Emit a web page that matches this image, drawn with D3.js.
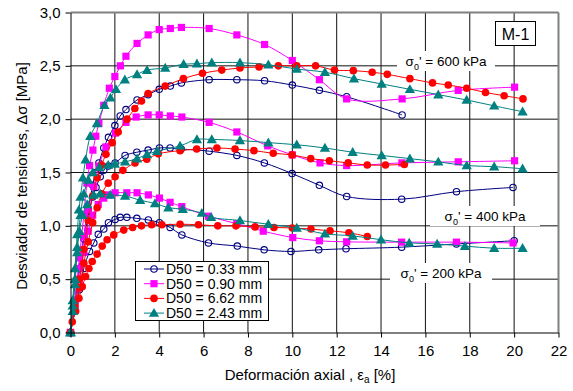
<!DOCTYPE html>
<html>
<head>
<meta charset="utf-8">
<script src="https://cdn.jsdelivr.net/npm/d3@7"></script>
<style>
  body { margin: 0; background: #fff; }
  text { font-family: "Liberation Sans", Arial, sans-serif; }
  .tick text { font-size: 15px; fill: #000; }
  .tick line, .domain { stroke: #000; }
</style>
</head>
<body>
<div id="chart"></div>
<script>

// data: [deformacion axial %, desviador MPa]
var navy200 = [[0,0],[0.2,0.2],[0.4,0.4],[0.6,0.6],[0.86,0.76],[1.05,0.84],[1.25,0.92],[1.5,0.97],[1.71,1.03],[2.01,1.06],[2.24,1.08],[2.54,1.08],[2.99,1.07],[3.51,1.055],[4.01,1.03],[4.49,0.985],[5.02,0.915],[6.22,0.84],[7.52,0.81],[8.73,0.775],[9.94,0.76],[11.19,0.775],[12.42,0.785],[14.93,0.80],[17.4,0.83],[20.0,0.86]];
var navy400 = [[0,0],[0.2,0.3],[0.4,0.6],[0.6,0.88],[0.8,1.1],[1.0,1.27],[1.15,1.36],[1.34,1.46],[1.5,1.52],[1.71,1.56],[2.01,1.59],[2.46,1.66],[2.99,1.69],[3.5,1.71],[4.01,1.73],[4.49,1.73],[4.99,1.72],[6.25,1.70],[7.5,1.66],[8.74,1.59],[9.99,1.49],[11.22,1.38],[12.45,1.275],[14.93,1.25],[17.4,1.32],[19.95,1.36]];
var navy600 = [[0,0],[0.2,0.3],[0.4,0.6],[0.6,0.9],[0.8,1.15],[1.0,1.38],[1.13,1.5],[1.28,1.59],[1.5,1.73],[1.71,1.83],[2.0,1.94],[2.24,2.03],[2.5,2.09],[3.0,2.18],[3.5,2.23],[4.0,2.28],[4.5,2.31],[5.0,2.34],[6.25,2.37],[7.5,2.37],[8.75,2.36],[10.0,2.32],[11.22,2.27],[12.45,2.21],[14.95,2.04]];

var magenta200 = [[0,0],[0.2,0.25],[0.4,0.5],[0.6,0.75],[0.8,0.95],[1.0,1.1],[1.25,1.2],[1.5,1.26],[1.71,1.29],[2.01,1.31],[2.54,1.31],[3.0,1.31],[3.51,1.29],[4.01,1.26],[4.49,1.22],[5.02,1.18],[6.22,1.09],[7.5,1.02],[8.69,0.95],[10.02,0.89],[11.22,0.86],[12.45,0.85],[14.93,0.847],[17.4,0.847],[19.95,0.84]];
var magenta400 = [[0,0],[0.2,0.3],[0.4,0.6],[0.6,0.9],[0.8,1.15],[1.05,1.37],[1.28,1.56],[1.6,1.74],[2.03,1.87],[2.5,1.97],[2.96,2.02],[3.5,2.04],[4.0,2.04],[4.5,2.03],[5.02,2.02],[6.25,1.97],[7.5,1.88],[8.89,1.75],[10.0,1.665],[11.25,1.59],[12.45,1.565],[14.94,1.59],[17.48,1.60],[20.02,1.61]];
var magenta600 = [[0,0],[0.2,0.3],[0.4,0.7],[0.6,1.1],[0.74,1.40],[0.86,1.565],[1.01,1.71],[1.14,1.84],[1.28,1.96],[1.5,2.13],[1.75,2.29],[2.0,2.40],[2.25,2.50],[2.5,2.59],[3.0,2.71],[3.5,2.79],[4.0,2.84],[4.5,2.85],[5.0,2.86],[6.25,2.85],[7.5,2.79],[8.75,2.70],[10.0,2.55],[11.22,2.37],[12.45,2.19],[14.95,2.19],[17.48,2.27],[20.02,2.30]];

var red200 = [[0,0],[0.08,0.1],[0.23,0.2],[0.38,0.32],[0.53,0.43],[0.68,0.525],[0.83,0.6],[0.98,0.665],[1.2,0.735],[1.43,0.81],[1.65,0.87],[1.95,0.915],[2.4,0.96],[2.8,0.985],[3.2,1.0],[3.66,1.01],[4.12,1.01],[4.94,1.015],[5.77,1.01],[6.64,1.0],[7.46,1.0],[8.32,0.99],[9.17,0.985],[10.0,0.98],[10.84,0.97],[11.7,0.953],[12.55,0.935],[13.38,0.90]];
var red400 = [[0,0],[0.2,0.2],[0.4,0.42],[0.6,0.65],[0.8,0.85],[1.0,1.03],[1.2,1.17],[1.41,1.3],[1.7,1.40],[2.01,1.46],[2.36,1.52],[2.91,1.59],[3.44,1.625],[3.96,1.675],[4.94,1.705],[5.69,1.72],[6.6,1.73],[7.42,1.72],[8.27,1.705],[9.14,1.68],[9.99,1.665],[10.83,1.63],[11.67,1.61],[12.52,1.59],[13.38,1.57],[14.2,1.57],[15.05,1.575]];
var red600 = [[0,0],[0.2,0.25],[0.4,0.5],[0.6,0.78],[0.8,1.05],[1.0,1.28],[1.2,1.45],[1.4,1.57],[1.6,1.67],[1.88,1.78],[2.15,1.88],[2.55,2.0],[2.9,2.1],[3.2,2.17],[3.5,2.24],[4.27,2.31],[5.09,2.38],[5.95,2.43],[6.82,2.46],[7.64,2.48],[8.5,2.49],[9.37,2.5],[10.2,2.5],[11.05,2.5],[11.9,2.46],[12.75,2.455],[13.6,2.44],[14.28,2.42],[15.3,2.38],[16.32,2.34],[17.03,2.32],[17.86,2.29],[18.71,2.25],[19.55,2.22],[20.4,2.19]];

var teal200 = [[0,0],[0.1,0.2],[0.2,0.45],[0.3,0.75],[0.4,0.95],[0.55,1.1],[0.75,1.2],[1.04,1.29],[1.34,1.30],[1.79,1.29],[2.46,1.28],[3.14,1.24],[3.81,1.21],[4.41,1.17],[5.06,1.156],[5.92,1.12],[6.34,1.08],[7.64,1.05],[8.92,1.015],[10.2,0.98],[11.47,0.925],[12.72,0.906],[14.0,0.87],[15.27,0.84],[16.53,0.83],[17.78,0.81],[19.1,0.79],[20.38,0.79]];
var teal400 = [[0,0],[0.1,0.25],[0.2,0.5],[0.3,0.8],[0.45,1.1],[0.6,1.3],[0.8,1.43],[1.0,1.5],[1.3,1.55],[1.7,1.57],[2.0,1.58],[2.46,1.6],[3.0,1.63],[3.45,1.67],[3.9,1.70],[4.94,1.75],[5.7,1.81],[6.37,1.81],[7.64,1.80],[8.92,1.78],[10.2,1.76],[11.47,1.73],[12.72,1.69],[14.03,1.66],[15.3,1.63],[16.58,1.60],[17.86,1.565],[19.1,1.555],[20.38,1.535]];
var teal600 = [[0,0],[0.1,0.3],[0.2,0.6],[0.3,0.92],[0.38,1.15],[0.45,1.27],[0.56,1.45],[0.68,1.62],[0.89,1.84],[1.19,1.96],[1.53,2.13],[1.8,2.2],[2.05,2.28],[2.45,2.37],[3.0,2.42],[3.45,2.46],[4.27,2.48],[5.1,2.515],[5.7,2.52],[6.37,2.53],[7.64,2.53],[8.92,2.51],[10.2,2.47],[11.47,2.44],[12.78,2.38],[14.03,2.33],[15.3,2.28],[16.58,2.23],[17.86,2.18],[19.1,2.125],[20.38,2.07]];

var legendLabels = ['D50 = 0.33 mm', 'D50 = 0.90 mm', 'D50 = 6.62 mm', 'D50 = 2.43 mm'];
var pressureLabels = ['600 kPa', '400 kPa', '200 kPa'];
var xTicks = [0,2,4,6,8,10,12,14,16,18,20,22];
var yTicks = [0,0.5,1,1.5,2,2.5,3];

var width = 573, height = 391;

var svg = d3.select('#chart').append('svg')
    .attr('width', width)
    .attr('height', height);

var x = d3.scaleLinear().domain([0,22]).range([70.5,558.5]);
var y = d3.scaleLinear().domain([0,3]).range([332.5,12.5]);

var comma = d => d3.format('.1f')(d).replace('.', ',');

// grid
var grid = svg.append('g');
xTicks.slice(1, -1).forEach(t => {
    grid.append('line')
        .attr('x1', x(t)).attr('x2', x(t))
        .attr('y1', y(0)).attr('y2', y(3))
        .attr('stroke', '#111').attr('stroke-width', 1);
});
yTicks.slice(1, -1).forEach(t => {
    grid.append('line')
        .attr('x1', x(0)).attr('x2', x(22))
        .attr('y1', y(t)).attr('y2', y(t))
        .attr('stroke', '#111').attr('stroke-width', 1);
});
// top and right frame
grid.append('line').attr('x1', x(0)).attr('x2', x(22)).attr('y1', y(3)).attr('y2', y(3))
    .attr('stroke', '#808080').attr('stroke-width', 2);
grid.append('line').attr('x1', x(22)).attr('x2', x(22)).attr('y1', y(0)).attr('y2', y(3))
    .attr('stroke', '#808080').attr('stroke-width', 2);

// pressure labels with white boxes
var plab = [
    {t: pressureLabels[0], cx: 446, cy: 61, w: 98},
    {t: pressureLabels[1], cx: 485, cy: 216, w: 110},
    {t: pressureLabels[2], cx: 441, cy: 273, w: 102}
];
plab.forEach(p => {
    svg.append('rect')
        .attr('x', p.cx - p.w/2).attr('y', p.cy - 10)
        .attr('width', p.w).attr('height', 20)
        .attr('fill', '#fff');
    var t = svg.append('text')
        .attr('x', p.cx).attr('y', p.cy + 5)
        .attr('text-anchor', 'middle')
        .style('font-size', '13.5px');
    t.append('tspan').text('\u03c3');
    t.append('tspan').attr('dy', 4).style('font-size', '9px').text('0');
    t.append('tspan').attr('dy', -4).text("' = " + p.t);
});

// curves
var line = d3.line()
    .x(d => x(d[0]))
    .y(d => y(d[1]))
    .curve(d3.curveCatmullRom.alpha(0.5));

var series = [
    {data: [navy200, navy400, navy600], color: '#000080', mark: 'ocircle'},
    {data: [magenta200, magenta400, magenta600], color: '#FF00FF', mark: 'square'},
    {data: [red200, red400, red600], color: '#FF0000', mark: 'circle'},
    {data: [teal200, teal400, teal600], color: '#008080', mark: 'triangle'}
];

function drawMark(g, type, color, px, py) {
    if (type == 'ocircle') {
        g.append('circle').attr('cx', px).attr('cy', py).attr('r', 3.2)
            .attr('fill', 'none').attr('stroke', color).attr('stroke-width', 1.1);
    } else if (type == 'circle') {
        g.append('circle').attr('cx', px).attr('cy', py).attr('r', 3.8)
            .attr('fill', color);
    } else if (type == 'square') {
        g.append('rect').attr('x', px - 3.6).attr('y', py - 3.6)
            .attr('width', 7.2).attr('height', 7.2).attr('fill', color);
    } else {
        g.append('path')
            .attr('d', d3.symbol().type(d3.symbolTriangle).size(46)())
            .attr('transform', `translate(${px},${py + 0.8})`)
            .attr('fill', color);
    }
}

var curves = svg.append('g');
series.forEach(s => {
    s.data.forEach(arr => {
        curves.append('path')
            .datum(arr)
            .attr('d', line)
            .attr('fill', 'none')
            .attr('stroke', s.color)
            .attr('stroke-width', 1);
        arr.forEach(d => drawMark(curves, s.mark, s.color, x(d[0]), y(d[1])));
    });
});

// axes
svg.append('g')
    .attr('transform', `translate(${x(0)},0)`)
    .call(d3.axisLeft(y).tickValues(yTicks).tickSize(5).tickSizeOuter(0).tickPadding(5).tickFormat(comma));

svg.append('g')
    .attr('transform', `translate(0,${y(0)})`)
    .call(d3.axisBottom(x).tickValues(xTicks).tickSize(5).tickSizeOuter(0).tickPadding(8).tickFormat(d3.format('d')));

// M-1 box
svg.append('rect').attr('x', 495.5).attr('y', 21.5).attr('width', 40).attr('height', 24)
    .attr('fill', '#fff').attr('stroke', '#000');
svg.append('text').attr('x', 515.5).attr('y', 39.5).attr('text-anchor', 'middle')
    .style('font-size', '16px').text('M-1');

// legend
var legend = svg.append('g');
legend.append('rect').attr('x', 135.5).attr('y', 261.5).attr('width', 133).attr('height', 59)
    .attr('fill', '#fff').attr('stroke', '#000');
series.forEach((s, i) => {
    var ly = 269 + i*14.7;
    legend.append('line').attr('x1', 144).attr('x2', 164).attr('y1', ly).attr('y2', ly)
        .attr('stroke', s.color).attr('stroke-width', 1);
    drawMark(legend, s.mark, s.color, 154, ly);
    legend.append('text').attr('x', 166).attr('y', ly + 5)
        .style('font-size', '14px').text(legendLabels[i]);
});

// axis titles
var xt = svg.append('text')
    .attr('x', 310).attr('y', 380)
    .attr('text-anchor', 'middle')
    .style('font-size', '15px');
xt.append('tspan').text('Deformaci\u00f3n axial , \u03b5');
xt.append('tspan').attr('dy', 3).style('font-size', '10px').text('a');
xt.append('tspan').attr('dy', -3).text(' [%]');

svg.append('text')
    .attr('transform', `translate(27,176)rotate(-90)`)
    .attr('text-anchor', 'middle')
    .style('font-size', '15px')
    .text('Desviador de tensiones, \u0394\u03c3 [MPa]');

</script>
</body>
</html>
